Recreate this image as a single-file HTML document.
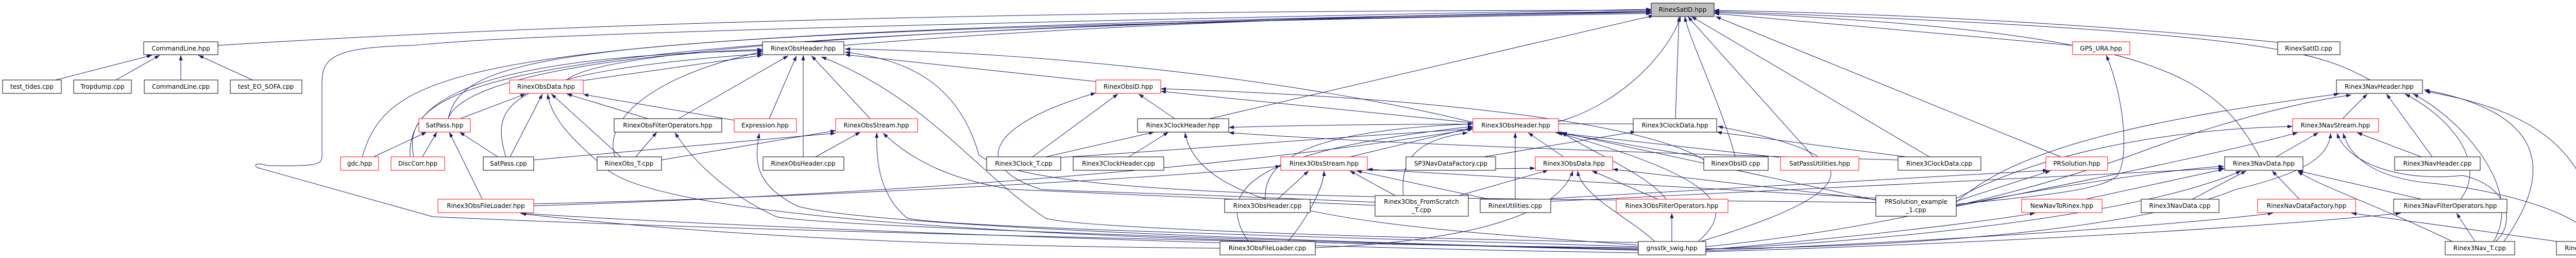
<!DOCTYPE html>
<html><head><meta charset="utf-8"><style>
html,body{margin:0;padding:0;background:#fff;}
svg{display:block;}
text{font-family:"DejaVu Sans","Liberation Sans",sans-serif;font-size:12px;fill:#000;}
.b{fill:#fff;stroke:#000;stroke-width:1;}
.r{fill:#fff;stroke:#ff3030;stroke-width:1.2;}
.g{fill:#bfbfbf;stroke:#000;stroke-width:1;}
path.e{fill:none;stroke:#191970;stroke-width:1;marker-end:url(#ah);}
</style></head><body>
<svg width="5153" height="500" viewBox="0 0 5153 500" xmlns="http://www.w3.org/2000/svg">
<defs><marker id="ah" markerUnits="userSpaceOnUse" markerWidth="10" markerHeight="8" refX="10" refY="3.5" orient="auto"><path d="M0,0 L10,3.5 L0,7 z" fill="#191970"/></marker></defs>
<g>
<!-- edges to RinexSatID -->
<path class="e" d="M423,88 C1500,20 2800,20 3205,20"/>
<path class="e" d="M1638,88 C2200,40 2900,25 3205,22"/>
<path class="e" d="M1100,155 C1200,60 2800,25 3205,24"/>
<path class="e" d="M870,230 C900,100 1100,60 3205,26"/>
<path class="e" d="M703,304 C760,120 900,60 3205,22"/>
<path class="e" d="M803,304 C770,150 1000,60 3205,24"/>
<path class="e" d="M3180,482 C2500,470 1500,450 840,420 L500,325 C490,318 500,315 520,321 C620,322 625,320 625,300 L625,160 C625,110 650,92 800,88 C900,80 1000,60 3205,18"/>
<path class="e" d="M3025,236 C3150,200 3240,100 3262,32"/>
<path class="e" d="M3252,230 L3259,32"/>
<path class="e" d="M3368,304 C3340,200 3280,80 3270,32"/>
<path class="e" d="M3520,304 L3276,32"/>
<path class="e" d="M3745,304 L3283,32"/>
<path class="e" d="M2348,230 L3210,30"/>
<path class="e" d="M4023,88 C3700,60 3500,40 3327,26"/>
<path class="e" d="M4421,82 C4000,40 3600,25 3327,20"/>
<path class="e" d="M4600,155 C4500,100 4400,60 3327,22"/>
<path class="e" d="M4386,304 C4300,150 4200,60 3327,24"/>
<path class="e" d="M4000,304 L3330,32"/>
<!-- CommandLine -->
<path class="e" d="M108,155 L295,107"/>
<path class="e" d="M225,155 L310,107"/>
<path class="e" d="M351,155 L351,107"/>
<path class="e" d="M490,155 L385,107"/>
<!-- RinexObsHeader -->
<path class="e" d="M1132,156 L1480,107"/>
<path class="e" d="M1317,230 L1530,108"/>
<path class="e" d="M1493,230 L1546,108"/>
<path class="e" d="M1559,304 L1559,107"/>
<path class="e" d="M1689,230 L1575,108"/>
<path class="e" d="M870,230 C900,140 1300,100 1480,96"/>
<path class="e" d="M796,304 C790,200 900,110 1480,98"/>
<path class="e" d="M982,304 C950,200 980,140 1480,104"/>
<path class="e" d="M1194,304 C1170,240 1250,150 1480,100"/>
<path class="e" d="M3797,395 C3000,380 2020,400 1900,300 C1860,160 1760,115 1640,101"/>
<path class="e" d="M3180,470 C2600,460 2080,440 2030,423 C1900,340 1800,190 1594,110"/>
<path class="e" d="M2127,158 L1640,106"/>
<path class="e" d="M2859,237 C2500,150 2000,100 1640,95"/>
<!-- RinexObsData -->
<path class="e" d="M893,230 L1020,182"/>
<path class="e" d="M990,304 L1053,182"/>
<path class="e" d="M1205,304 L1070,182"/>
<path class="e" d="M1258,230 L1100,182"/>
<path class="e" d="M1425,233 L1132,183"/>
<path class="e" d="M3180,480 C2000,470 1300,420 1180,330 C1110,270 1070,230 1063,182"/>
<!-- SatPass -->
<path class="e" d="M725,304 L828,256"/>
<path class="e" d="M820,304 L848,256"/>
<path class="e" d="M966,304 L892,256"/>
<path class="e" d="M936,386 L872,256"/>
<!-- ObsFilterOperators / Expression / ObsStream -->
<path class="e" d="M1234,304 L1275,256"/>
<path class="e" d="M3180,485 C2600,470 1600,440 1507,420 C1420,380 1350,320 1310,257"/>
<path class="e" d="M3180,484 C2600,470 1700,440 1549,400 C1470,360 1462,320 1474,258"/>
<path class="e" d="M1583,304 L1670,256"/>
<path class="e" d="M3180,478 C2600,460 1800,440 1760,422 C1710,380 1700,320 1702,257"/>
<path class="e" d="M2669,398 C2300,380 2000,370 1963,367 C1860,350 1780,320 1714,258"/>
<path class="e" d="M1284,310 L1622,253"/>
<path class="e" d="M1036,310 L1622,258"/>
<!-- RinexObsID -->
<path class="e" d="M2004,304 L2170,182"/>
<path class="e" d="M2280,230 L2210,182"/>
<path class="e" d="M2669,392 C2300,375 2050,370 2021,367 C1900,330 1890,250 2127,180"/>
<path class="e" d="M3307,310 C3200,240 2800,190 2253,172"/>
<path class="e" d="M2859,238 L2253,177"/>
<!-- Rinex3ClockHeader -->
<path class="e" d="M2030,304 L2240,256"/>
<path class="e" d="M2191,304 L2268,256"/>
<path class="e" d="M3180,475 C2700,440 2330,420 2300,257"/>
<path class="e" d="M3170,240 C2900,240 2600,240 2385,247"/>
<path class="e" d="M3684,310 C3300,300 2700,280 2385,257"/>
<!-- Rinex3ObsStream -->
<path class="e" d="M2480,386 L2540,331"/>
<path class="e" d="M2500,468 C2540,420 2570,360 2570,331"/>
<path class="e" d="M2708,379 L2620,331"/>
<path class="e" d="M2890,386 L2633,331"/>
<path class="e" d="M3641,384 L2654,328"/>
<path class="e" d="M1036,395 C1500,385 2200,350 2486,322"/>
<!-- Rinex3ObsHeader -->
<path class="e" d="M2456,386 C2450,290 2600,250 2859,240"/>
<path class="e" d="M2423,468 C2350,360 2450,290 2859,245"/>
<path class="e" d="M2941,386 L2941,257"/>
<path class="e" d="M3035,304 L2966,257"/>
<path class="e" d="M3234,386 C3200,340 3100,300 3031,257"/>
<path class="e" d="M3305,305 L3023,257"/>
<path class="e" d="M3454,305 L3019,257"/>
<path class="e" d="M3641,388 L3031,257"/>
<path class="e" d="M3296,468 C3375,400 3330,343 3023,257"/>
<path class="e" d="M2724,379 C2716,300 2760,270 2849,257"/>
<path class="e" d="M2620,304 L2859,247"/>
<path class="e" d="M1036,399 C1600,380 2300,340 2859,250"/>
<path class="e" d="M2059,305 C2300,290 2600,265 2859,250"/>
<!-- Rinex3ClockData -->
<path class="e" d="M2880,304 L3175,255"/>
<path class="e" d="M3700,304 L3332,256"/>
<path class="e" d="M3301,468 C3637,367 3628,300 3334,245"/>
<!-- Rinex3ObsData -->
<path class="e" d="M2832,379 L3005,330"/>
<path class="e" d="M3218,386 L3090,331"/>
<path class="e" d="M3212,468 C3160,420 3070,380 3062,331"/>
<path class="e" d="M2553,480 C2800,470 3020,430 3053,331"/>
<path class="e" d="M3641,387 L3130,328"/>
<path class="e" d="M2654,330 L2980,326"/>
<path class="e" d="M3245,468 L3245,413"/>
<!-- FileLoader -->
<path class="e" d="M3180,490 C2500,480 1400,440 1010,413"/>
<path class="e" d="M2368,481 C2000,478 1500,470 1011,414"/>
<!-- Right side -->
<path class="e" d="M4547,230 L4595,182"/>
<path class="e" d="M4721,304 L4632,182"/>
<path class="e" d="M4776,386 C4828,317 4760,230 4668,182"/>
<path class="e" d="M4840,468 C4900,367 4780,233 4684,182"/>
<path class="e" d="M5052,468 C5020,300 4940,217 4707,177"/>
<path class="e" d="M4860,468 C4980,300 4900,210 4705,174"/>
<path class="e" d="M3797,392 C3900,300 4100,240 4540,182"/>
<path class="e" d="M3311,478 C3700,440 4000,350 4140,300 C4300,240 4450,200 4564,184"/>
<path class="e" d="M4418,304 L4500,257"/>
<path class="e" d="M4700,304 L4575,257"/>
<path class="e" d="M5036,468 C5020,417 4860,367 4700,353 C4600,340 4560,300 4548,258"/>
<path class="e" d="M4844,468 C4884,433 4870,360 4780,340 C4660,353 4556,317 4536,258"/>
<path class="e" d="M3311,482 C3900,477 4220,417 4340,367 C4484,333 4520,300 4524,258"/>
<path class="e" d="M3797,385 C3950,300 4200,250 4450,245"/>
<path class="e" d="M3797,400 C4000,360 4300,300 4460,257"/>
<path class="e" d="M4255,386 L4360,331"/>
<path class="e" d="M4463,386 L4410,331"/>
<path class="e" d="M4700,386 L4460,331"/>
<path class="e" d="M4760,468 C4620,400 4500,360 4460,332"/>
<path class="e" d="M4048,386 L4316,328"/>
<path class="e" d="M3797,398 C4000,360 4200,330 4316,322"/>
<path class="e" d="M3010,385 C3400,360 3800,340 3975,330"/>
<path class="e" d="M3010,390 C3500,370 4000,340 4318,326"/>
<path class="e" d="M3797,390 L3980,331"/>
<path class="e" d="M3797,396 C3950,380 4080,370 4110,340 C4135,300 4120,180 4088,107"/>
<path class="e" d="M3311,484 C3600,460 3850,430 3950,413"/>
<path class="e" d="M3311,486 C3700,470 4200,440 4412,413"/>
<path class="e" d="M4964,468 L4564,413"/>
<path class="e" d="M4804,468 L4768,413"/>
<path class="e" d="M3311,488 C3900,470 4400,440 4660,413"/>
<path class="e" d="M3311,483 C3800,460 4200,400 4350,331"/>
</g>
<!-- nodes -->
<g>
<rect class="g" x="3205" y="6" width="122" height="26"/><text x="3266" y="23" text-anchor="middle">RinexSatID.hpp</text>
<rect class="b" x="279" y="81" width="144" height="25"/><text x="351" y="98" text-anchor="middle">CommandLine.hpp</text>
<rect class="b" x="5" y="155" width="114" height="26"/><text x="62" y="172" text-anchor="middle">test_tides.cpp</text>
<rect class="b" x="143" y="155" width="112" height="26"/><text x="199" y="172" text-anchor="middle">Tropdump.cpp</text>
<rect class="b" x="280" y="155" width="143" height="26"/><text x="351" y="172" text-anchor="middle">CommandLine.cpp</text>
<rect class="b" x="447" y="155" width="139" height="26"/><text x="516" y="172" text-anchor="middle">test_EO_SOFA.cpp</text>
<rect class="b" x="1480" y="81" width="158" height="25"/><text x="1559" y="98" text-anchor="middle">RinexObsHeader.hpp</text>
<rect class="r" x="4023" y="81" width="111" height="25"/><text x="4078" y="98" text-anchor="middle">GPS_URA.hpp</text>
<rect class="b" x="4421" y="81" width="121" height="25"/><text x="4481" y="98" text-anchor="middle">RinexSatID.cpp</text>
<rect class="r" x="989" y="155" width="143" height="26"/><text x="1060" y="172" text-anchor="middle">RinexObsData.hpp</text>
<rect class="r" x="2127" y="155" width="126" height="26"/><text x="2190" y="172" text-anchor="middle">RinexObsID.hpp</text>
<rect class="b" x="4535" y="155" width="167" height="26"/><text x="4618" y="172" text-anchor="middle">Rinex3NavHeader.hpp</text>
<rect class="r" x="813" y="230" width="100" height="26"/><text x="863" y="247" text-anchor="middle">SatPass.hpp</text>
<rect class="b" x="1192" y="230" width="209" height="26"/><text x="1296" y="247" text-anchor="middle">RinexObsFilterOperators.hpp</text>
<rect class="r" x="1425" y="230" width="121" height="26"/><text x="1485" y="247" text-anchor="middle">Expression.hpp</text>
<rect class="r" x="1622" y="230" width="159" height="26"/><text x="1701" y="247" text-anchor="middle">RinexObsStream.hpp</text>
<rect class="b" x="2208" y="230" width="177" height="26"/><text x="2296" y="247" text-anchor="middle">Rinex3ClockHeader.hpp</text>
<rect class="r" x="2859" y="230" width="166" height="26"/><text x="2942" y="247" text-anchor="middle">Rinex3ObsHeader.hpp</text>
<rect class="b" x="3170" y="230" width="162" height="26"/><text x="3251" y="247" text-anchor="middle">Rinex3ClockData.hpp</text>
<rect class="r" x="4450" y="230" width="167" height="26"/><text x="4533" y="247" text-anchor="middle">Rinex3NavStream.hpp</text>
<rect class="r" x="661" y="304" width="74" height="26"/><text x="698" y="321" text-anchor="middle">gdc.hpp</text>
<rect class="r" x="759" y="304" width="104" height="26"/><text x="811" y="321" text-anchor="middle">DiscCorr.hpp</text>
<rect class="b" x="938" y="304" width="98" height="26"/><text x="987" y="321" text-anchor="middle">SatPass.cpp</text>
<rect class="b" x="1159" y="304" width="125" height="26"/><text x="1221" y="321" text-anchor="middle">RinexObs_T.cpp</text>
<rect class="b" x="1481" y="304" width="157" height="26"/><text x="1559" y="321" text-anchor="middle">RinexObsHeader.cpp</text>
<rect class="b" x="1915" y="304" width="144" height="26"/><text x="1987" y="321" text-anchor="middle">Rinex3Clock_T.cpp</text>
<rect class="b" x="2083" y="304" width="176" height="26"/><text x="2171" y="321" text-anchor="middle">Rinex3ClockHeader.cpp</text>
<rect class="r" x="2486" y="304" width="168" height="26"/><text x="2570" y="321" text-anchor="middle">Rinex3ObsStream.hpp</text>
<rect class="b" x="2729" y="304" width="174" height="26"/><text x="2816" y="321" text-anchor="middle">SP3NavDataFactory.cpp</text>
<rect class="r" x="2980" y="304" width="150" height="26"/><text x="3055" y="321" text-anchor="middle">Rinex3ObsData.hpp</text>
<rect class="b" x="3307" y="304" width="125" height="26"/><text x="3369" y="321" text-anchor="middle">RinexObsID.cpp</text>
<rect class="r" x="3456" y="304" width="152" height="26"/><text x="3532" y="321" text-anchor="middle">SatPassUtilities.hpp</text>
<rect class="b" x="3684" y="304" width="161" height="26"/><text x="3764" y="321" text-anchor="middle">Rinex3ClockData.cpp</text>
<rect class="r" x="3971" y="304" width="120" height="26"/><text x="4031" y="321" text-anchor="middle">PRSolution.hpp</text>
<rect class="b" x="4318" y="304" width="152" height="26"/><text x="4394" y="321" text-anchor="middle">Rinex3NavData.hpp</text>
<rect class="b" x="4648" y="304" width="166" height="26"/><text x="4731" y="321" text-anchor="middle">Rinex3NavHeader.cpp</text>
<rect class="r" x="850" y="386" width="186" height="26"/><text x="943" y="403" text-anchor="middle">Rinex3ObsFileLoader.hpp</text>
<rect class="b" x="2377" y="386" width="166" height="26"/><text x="2460" y="403" text-anchor="middle">Rinex3ObsHeader.cpp</text>
<rect class="b" x="2669" y="379" width="181" height="40"/><text x="2759" y="395" text-anchor="middle">Rinex3Obs_FromScratch</text><text x="2759" y="411" text-anchor="middle">_T.cpp</text>
<rect class="b" x="2873" y="386" width="137" height="26"/><text x="2941" y="403" text-anchor="middle">RinexUtilities.cpp</text>
<rect class="r" x="3137" y="386" width="217" height="26"/><text x="3245" y="403" text-anchor="middle">Rinex3ObsFilterOperators.hpp</text>
<rect class="b" x="3641" y="379" width="156" height="40"/><text x="3719" y="395" text-anchor="middle">PRSolution_example</text><text x="3719" y="411" text-anchor="middle">_1.cpp</text>
<rect class="r" x="3924" y="386" width="156" height="26"/><text x="4002" y="403" text-anchor="middle">NewNavToRinex.hpp</text>
<rect class="b" x="4156" y="386" width="151" height="26"/><text x="4231" y="403" text-anchor="middle">Rinex3NavData.cpp</text>
<rect class="r" x="4382" y="386" width="190" height="26"/><text x="4477" y="403" text-anchor="middle">RinexNavDataFactory.hpp</text>
<rect class="b" x="4646" y="386" width="220" height="26"/><text x="4756" y="403" text-anchor="middle">Rinex3NavFilterOperators.hpp</text>
<rect class="b" x="2368" y="468" width="185" height="26"/><text x="2460" y="485" text-anchor="middle">Rinex3ObsFileLoader.cpp</text>
<rect class="b" x="3180" y="468" width="131" height="26"/><text x="3245" y="485" text-anchor="middle">gnsstk_swig.hpp</text>
<rect class="b" x="4746" y="468" width="135" height="26"/><text x="4813" y="485" text-anchor="middle">Rinex3Nav_T.cpp</text>
<rect class="b" x="4962" y="468" width="187" height="26"/><text x="5055" y="485" text-anchor="middle">RinexNavDataFactory.cpp</text>
</g>
</svg>
</body></html>
